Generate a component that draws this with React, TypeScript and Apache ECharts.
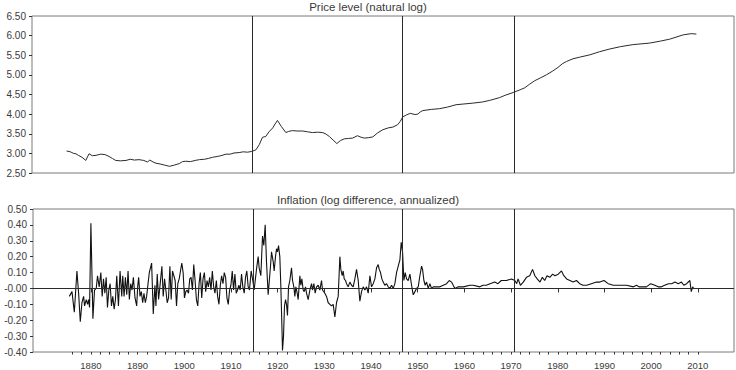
import React, { useEffect, useRef } from "react";
import * as echarts from "echarts";

// ---------- data ----------
const priceTitle = "Price level (natural log)";
const inflTitle = "Inflation (log difference, annualized)";

const breakYears = [1914.7, 1946.7, 1970.7];

const priceTickLabels = ["2.50", "3.00", "3.50", "4.00", "4.50", "5.00", "5.50", "6.00", "6.50"];
const inflTickLabels = ["-0.40", "-0.30", "-0.20", "-0.10", "-0.00", "0.10", "0.20", "0.30", "0.40", "0.50"];
const yearTickLabels = [1880, 1890, 1900, 1910, 1920, 1930, 1940, 1950, 1960, 1970, 1980, 1990, 2000, 2010];

const priceLevel: [number, number][] = [
  [1875.0, 3.06], [1875.8, 3.04], [1876.5, 3.0], [1877.0, 2.99], [1877.5, 2.95], [1878.3, 2.9],
  [1879.1, 2.82], [1879.8, 2.99], [1880.5, 2.94], [1881.3, 2.95], [1882.3, 2.98], [1883.2, 2.97],
  [1884.1, 2.92], [1884.8, 2.87], [1885.5, 2.82], [1886.5, 2.81], [1887.7, 2.82], [1888.6, 2.85],
  [1889.5, 2.83], [1890.5, 2.84], [1891.5, 2.82], [1892.3, 2.78], [1892.8, 2.83], [1893.5, 2.78],
  [1894.1, 2.75], [1895.0, 2.73], [1896.0, 2.7], [1897.0, 2.67], [1898.0, 2.7], [1899.1, 2.74],
  [1899.8, 2.79], [1900.5, 2.8], [1901.5, 2.79], [1902.5, 2.82], [1903.4, 2.84], [1904.5, 2.85],
  [1905.3, 2.87], [1906.2, 2.9], [1907.2, 2.92], [1908.0, 2.94], [1909.1, 2.98], [1910.0, 2.98],
  [1910.8, 3.01], [1911.9, 3.02], [1912.8, 3.04], [1913.7, 3.03], [1914.6, 3.05], [1915.5, 3.09],
  [1916.2, 3.22], [1916.9, 3.41], [1917.6, 3.43], [1918.3, 3.55], [1919.1, 3.65], [1919.6, 3.75],
  [1920.1, 3.84], [1920.9, 3.69], [1921.9, 3.53], [1922.5, 3.56], [1923.3, 3.58], [1924.3, 3.57],
  [1925.5, 3.57], [1926.5, 3.55], [1927.6, 3.53], [1928.7, 3.54], [1929.8, 3.53], [1930.5, 3.49],
  [1931.2, 3.43], [1932.0, 3.34], [1932.8, 3.25], [1933.6, 3.33], [1934.4, 3.37], [1935.3, 3.38],
  [1936.2, 3.39], [1937.2, 3.45], [1938.0, 3.41], [1938.7, 3.39], [1939.6, 3.4], [1940.5, 3.42],
  [1941.5, 3.52], [1942.6, 3.6], [1943.8, 3.65], [1944.8, 3.67], [1945.8, 3.73], [1946.4, 3.82],
  [1946.9, 3.93], [1947.7, 3.98], [1948.5, 4.02], [1949.5, 3.99], [1950.1, 4.0], [1950.7, 4.06],
  [1951.2, 4.09], [1953.0, 4.12], [1954.8, 4.14], [1956.5, 4.18], [1958.3, 4.24], [1961.9, 4.28],
  [1964.0, 4.31], [1965.5, 4.35], [1967.6, 4.42], [1968.8, 4.48], [1970.5, 4.55], [1972.0, 4.62],
  [1973.0, 4.67], [1974.0, 4.76], [1975.1, 4.85], [1976.3, 4.92], [1977.6, 5.0], [1979.0, 5.1],
  [1980.1, 5.19], [1981.0, 5.28], [1981.9, 5.34], [1983.3, 5.41], [1984.7, 5.45], [1986.9, 5.51],
  [1989.0, 5.59], [1991.2, 5.66], [1993.5, 5.72], [1996.1, 5.77], [1999.7, 5.81], [2002.0, 5.86],
  [2004.0, 5.91], [2006.9, 6.02], [2008.6, 6.05], [2009.7, 6.04],
];

const inflation: [number, number][] = [
  [1875.38, -0.05], [1875.95, -0.02], [1876.45, -0.15], [1877.01, 0.11], [1877.37, -0.03], [1877.73, -0.21],
  [1878.08, -0.09], [1878.44, -0.05], [1878.65, -0.11], [1879.0, -0.07], [1879.29, -0.1], [1879.5, -0.07],
  [1879.72, -0.12], [1880.0, 0.41], [1880.43, -0.19], [1880.78, -0.01], [1881.14, 0.0], [1881.42, 0.08],
  [1881.78, 0.01], [1882.13, 0.1], [1882.42, -0.05], [1882.7, 0.06], [1882.99, -0.03], [1883.27, 0.07],
  [1883.55, -0.12], [1883.84, -0.01], [1884.12, 0.03], [1884.41, -0.11], [1884.69, -0.05], [1884.98, -0.13],
  [1885.26, -0.07], [1885.54, 0.08], [1885.9, -0.11], [1886.25, 0.11], [1886.61, -0.05], [1886.82, 0.08],
  [1887.11, -0.05], [1887.39, 0.07], [1887.68, -0.04], [1887.96, 0.11], [1888.24, -0.07], [1888.53, 0.03],
  [1888.81, -0.01], [1889.1, 0.07], [1889.45, -0.06], [1889.81, -0.11], [1890.02, 0.01], [1890.23, 0.07],
  [1890.52, -0.05], [1890.8, -0.02], [1891.09, -0.09], [1891.37, -0.03], [1891.66, -0.09], [1891.94, -0.05],
  [1892.51, 0.1], [1893.01, 0.16], [1893.36, -0.16], [1893.72, 0.02], [1893.93, -0.11], [1894.21, 0.09],
  [1894.5, -0.07], [1894.78, 0.01], [1895.21, 0.14], [1895.49, -0.05], [1895.78, 0.06], [1896.06, -0.01],
  [1896.35, -0.09], [1896.63, -0.06], [1896.92, 0.14], [1897.2, -0.07], [1897.48, 0.11], [1897.77, 0.08],
  [1898.05, 0.05], [1898.34, -0.11], [1898.62, 0.03], [1898.91, 0.06], [1899.19, 0.11], [1899.47, 0.16],
  [1899.76, 0.1], [1900.04, -0.06], [1900.33, -0.02], [1900.61, -0.01], [1900.9, -0.03], [1901.18, 0.06],
  [1901.46, 0.07], [1901.75, -0.01], [1902.03, 0.15], [1902.32, 0.05], [1902.6, -0.07], [1902.89, -0.11],
  [1903.17, 0.03], [1903.45, 0.1], [1903.74, -0.06], [1904.02, 0.06], [1904.31, 0.1], [1904.59, -0.02],
  [1904.88, 0.05], [1905.16, 0.01], [1905.44, 0.07], [1905.73, -0.01], [1906.01, 0.11], [1906.3, 0.01],
  [1906.58, -0.03], [1906.87, 0.05], [1907.15, -0.05], [1907.43, -0.1], [1907.72, 0.02], [1908.0, 0.08],
  [1908.29, 0.03], [1908.57, 0.1], [1908.86, 0.07], [1909.14, -0.06], [1909.42, -0.1], [1909.71, -0.01],
  [1909.99, 0.02], [1910.28, 0.11], [1910.56, -0.01], [1910.85, 0.09], [1911.13, -0.03], [1911.41, -0.01],
  [1911.7, 0.02], [1911.98, -0.01], [1912.27, 0.09], [1912.55, 0.01], [1912.84, -0.03], [1913.12, 0.07],
  [1913.4, 0.11], [1913.69, 0.01], [1913.97, -0.01], [1914.33, 0.11], [1914.68, 0.05], [1914.97, -0.01],
  [1915.11, -0.01], [1915.47, 0.12], [1915.83, 0.2], [1916.04, 0.13], [1916.4, 0.08], [1916.76, 0.33],
  [1917.04, 0.27], [1917.33, 0.4], [1917.61, 0.17], [1917.97, -0.04], [1918.47, 0.14], [1918.69, 0.23],
  [1919.04, 0.17], [1919.26, 0.11], [1919.54, 0.2], [1919.76, 0.25], [1919.97, 0.23], [1920.19, 0.27],
  [1920.47, 0.2], [1920.69, 0.01], [1920.9, -0.22], [1921.04, -0.39], [1921.26, -0.3], [1921.47, -0.11],
  [1921.69, -0.07], [1921.9, -0.1], [1922.11, -0.17], [1922.33, 0.01], [1922.61, 0.05], [1922.97, 0.13],
  [1923.19, 0.05], [1923.47, 0.01], [1923.69, -0.05], [1923.9, 0.01], [1924.19, -0.03], [1924.4, -0.07],
  [1924.76, 0.08], [1924.97, 0.02], [1925.19, 0.06], [1925.47, -0.01], [1925.69, -0.02], [1925.97, 0.01],
  [1926.19, -0.03], [1926.54, -0.07], [1926.9, -0.01], [1927.26, 0.03], [1927.47, -0.01], [1927.76, 0.03],
  [1928.04, -0.03], [1928.33, 0.01], [1928.69, 0.02], [1929.04, -0.01], [1929.4, 0.05], [1929.61, -0.01],
  [1930.11, -0.03], [1930.47, -0.05], [1930.83, -0.09], [1931.19, -0.1], [1931.54, -0.11], [1931.9, -0.1],
  [1932.26, -0.18], [1932.61, -0.09], [1932.97, -0.05], [1933.33, 0.2], [1933.54, 0.12], [1933.83, 0.08],
  [1934.04, 0.11], [1934.26, 0.06], [1934.54, 0.05], [1934.76, 0.03], [1935.11, 0.01], [1935.47, 0.04],
  [1935.83, 0.02], [1936.19, 0.01], [1936.54, 0.06], [1936.9, 0.12], [1937.26, 0.05], [1937.61, -0.08],
  [1937.97, -0.02], [1938.33, 0.01], [1938.69, -0.01], [1939.04, 0.01], [1939.4, -0.03], [1939.76, 0.08],
  [1940.11, 0.01], [1940.47, 0.03], [1940.83, 0.06], [1941.19, 0.13], [1941.54, 0.15], [1941.76, 0.12],
  [1942.04, 0.1], [1942.33, 0.06], [1942.61, 0.04], [1942.97, 0.02], [1943.33, 0.03], [1943.69, 0.01],
  [1944.04, 0.0], [1944.4, 0.02], [1944.76, 0.0], [1945.11, 0.03], [1945.47, 0.1], [1945.83, 0.14],
  [1946.19, 0.18], [1946.47, 0.29], [1946.76, 0.23], [1947.04, 0.05], [1947.33, 0.1], [1947.61, 0.06],
  [1947.97, 0.05], [1948.33, 0.09], [1948.69, 0.02], [1949.04, -0.04], [1949.4, -0.02], [1949.76, 0.0],
  [1950.11, 0.01], [1950.47, 0.08], [1950.83, 0.14], [1951.04, 0.12], [1951.33, 0.05], [1951.61, 0.02],
  [1951.9, 0.04], [1952.26, 0.0], [1952.61, 0.03], [1952.97, 0.0], [1953.33, 0.01], [1954.04, 0.01],
  [1954.76, 0.01], [1955.47, 0.02], [1956.19, 0.03], [1956.76, 0.05], [1957.26, 0.04], [1957.61, 0.02],
  [1957.97, 0.0], [1958.69, 0.01], [1959.76, 0.01], [1961.19, 0.02], [1961.9, 0.02], [1963.3, 0.01],
  [1964.0, 0.02], [1964.7, 0.02], [1965.5, 0.03], [1966.5, 0.04], [1967.2, 0.03], [1967.9, 0.05],
  [1969.0, 0.05], [1970.1, 0.06], [1970.8, 0.05], [1971.2, 0.03], [1971.5, 0.06], [1972.0, 0.02],
  [1972.6, 0.04], [1973.3, 0.07], [1974.0, 0.08], [1974.6, 0.12], [1975.1, 0.08], [1975.6, 0.06],
  [1976.2, 0.04], [1976.7, 0.07], [1977.2, 0.05], [1977.7, 0.08], [1978.3, 0.07], [1978.9, 0.09],
  [1979.4, 0.08], [1980.1, 0.09], [1980.8, 0.11], [1981.3, 0.08], [1981.9, 0.06], [1982.6, 0.05],
  [1983.3, 0.04], [1984.0, 0.05], [1984.7, 0.03], [1985.4, 0.02], [1986.2, 0.02], [1987.2, 0.03],
  [1988.3, 0.04], [1989.0, 0.04], [1989.9, 0.05], [1990.8, 0.03], [1991.9, 0.02], [1993.3, 0.02],
  [1994.7, 0.02], [1996.2, 0.01], [1996.9, 0.02], [1997.4, 0.01], [1998.3, 0.01], [1999.0, 0.01],
  [1999.9, 0.03], [2000.8, 0.02], [2001.5, 0.01], [2002.2, 0.01], [2002.9, 0.02], [2003.7, 0.03],
  [2004.4, 0.03], [2005.1, 0.04], [2005.8, 0.03], [2006.5, 0.04], [2007.0, 0.02], [2007.6, 0.03],
  [2008.3, 0.05], [2008.6, -0.02], [2008.9, 0.01], [2009.1, 0.0], [2009.7, 0.0], [2010.1, 0.0],
];

// ---------- layout / style ----------
const X_MIN = 1867.6;
const X_MAX = 2017.75;
const FONT = "'Liberation Sans', Arial, sans-serif";
const TEXT = "#3a3a3a";
const FRAME = "#7a7a7a";
const minorTickYears = Array.from({ length: 68 }, (_, i) => 1876 + i * 2);

export default function App() {
  const ref = useRef<HTMLDivElement>(null);

  useEffect(() => {
    document.body.style.margin = "0";
    if (!ref.current) return;
    const chart = echarts.init(ref.current, null, { renderer: "svg" });

    const vLines = breakYears.map((y) => ({ xAxis: y }));
    const markLineBase = {
      silent: true,
      symbol: ["none", "none"],
      label: { show: false },
      lineStyle: { color: "#2a2a2a", width: 1, type: "solid" },
      emphasis: { disabled: true },
    };

    chart.setOption({
      animation: false,
      backgroundColor: "#ffffff",
      textStyle: { fontFamily: FONT },
      title: [
        {
          text: priceTitle,
          left: "center",
          top: 1,
          padding: 0,
          textStyle: { fontSize: 11.5, fontWeight: "normal", color: TEXT, fontFamily: FONT },
        },
        {
          text: inflTitle,
          left: "center",
          top: 194,
          padding: 0,
          textStyle: { fontSize: 11.5, fontWeight: "normal", color: TEXT, fontFamily: FONT },
        },
      ],
      grid: [
        { left: 32, top: 16, width: 702, height: 157, show: true, borderColor: FRAME, borderWidth: 1, backgroundColor: "transparent" },
        { left: 33, top: 209, width: 701, height: 143, show: true, borderColor: FRAME, borderWidth: 1, backgroundColor: "transparent" },
      ],
      xAxis: [
        {
          type: "value",
          gridIndex: 0,
          min: X_MIN,
          max: X_MAX,
          axisLine: { show: false },
          axisTick: { show: false },
          axisLabel: { show: false },
          splitLine: { show: false },
        },
        {
          type: "value",
          gridIndex: 1,
          min: X_MIN,
          max: X_MAX,
          axisLine: { show: false },
          axisTick: { show: true, length: 4, lineStyle: { color: "#333" }, customValues: yearTickLabels },
          axisLabel: {
            show: true,
            customValues: yearTickLabels,
            margin: 8,
            fontSize: 9.5,
            color: TEXT,
            fontFamily: FONT,
            formatter: (v: number) => String(Math.round(v)),
          },
          splitLine: { show: false },
        },
        {
          type: "value",
          gridIndex: 1,
          min: X_MIN,
          max: X_MAX,
          position: "bottom",
          axisLine: { show: false },
          axisTick: { show: true, length: 2.5, lineStyle: { color: "#333" }, customValues: minorTickYears },
          axisLabel: { show: false },
          splitLine: { show: false },
        },
      ],
      yAxis: [
        {
          type: "value",
          gridIndex: 0,
          min: 2.5,
          max: 6.5,
          interval: 0.5,
          axisLine: { show: false },
          axisTick: { show: true, length: 3, lineStyle: { color: "#333" } },
          axisLabel: {
            margin: 6,
            fontSize: 10,
            color: TEXT,
            fontFamily: FONT,
            formatter: (v: number) => priceTickLabels[Math.round((v - 2.5) / 0.5)] ?? "",
          },
          splitLine: { show: false },
        },
        {
          type: "value",
          gridIndex: 1,
          min: -0.4,
          max: 0.5,
          interval: 0.1,
          axisLine: { show: false },
          axisTick: { show: true, length: 3, lineStyle: { color: "#333" } },
          axisLabel: {
            margin: 6,
            fontSize: 10,
            color: TEXT,
            fontFamily: FONT,
            formatter: (v: number) => inflTickLabels[Math.round((v + 0.4) / 0.1)] ?? "",
          },
          splitLine: { show: false },
        },
      ],
      series: [
        {
          name: "Price level",
          type: "line",
          xAxisIndex: 0,
          yAxisIndex: 0,
          data: priceLevel,
          showSymbol: false,
          symbol: "none",
          lineStyle: { color: "#2b2b2b", width: 1 },
          markLine: { ...markLineBase, data: vLines },
        },
        {
          name: "Inflation",
          type: "line",
          xAxisIndex: 1,
          yAxisIndex: 1,
          data: inflation,
          showSymbol: false,
          symbol: "none",
          lineStyle: { color: "#111111", width: 1.1 },
          markLine: { ...markLineBase, data: [...vLines, { yAxis: 0 }] },
        },
      ],
    });

    return () => chart.dispose();
  }, []);

  return <div ref={ref} style={{ width: 736, height: 370 }} />;
}
